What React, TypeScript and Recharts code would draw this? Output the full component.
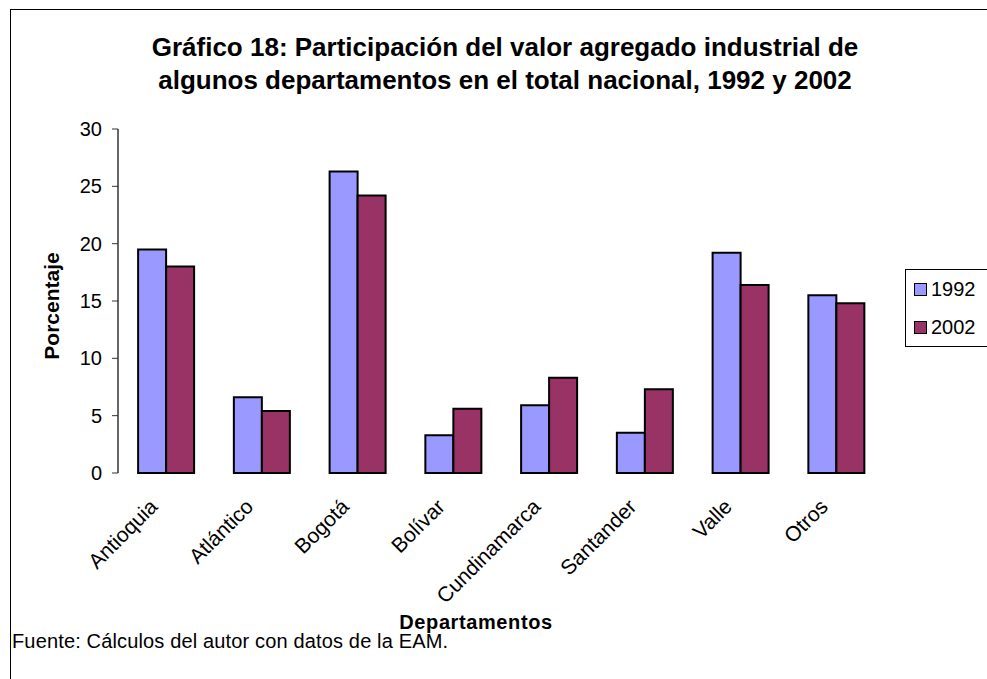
import { BarChart, Bar, XAxis, YAxis } from 'recharts';

const departamentos = ['Antioquia', 'Atlántico', 'Bogotá', 'Bolívar', 'Cundinamarca', 'Santander', 'Valle', 'Otros'];
const v1992 = [19.5, 6.6, 26.3, 3.3, 5.9, 3.5, 19.2, 15.5];
const v2002 = [18.0, 5.4, 24.2, 5.6, 8.3, 7.3, 16.4, 14.8];
const series = [
  { key: 'y1992', name: '1992', color: '#9999FF' },
  { key: 'y2002', name: '2002', color: '#993366' },
];
const yTicks = [0, 5, 10, 15, 20, 25, 30];
const boundaries = [0, 1, 2, 3, 4, 5, 6, 7, 8];

const FONT = '"Liberation Sans", Arial, sans-serif';

const data = departamentos.map((d, i) => ({ name: d, y1992: v1992[i], y2002: v2002[i] }));

function RotTick({ x, y, payload }: any) {
  return (
    <g transform={`translate(${x - 7},${y + 27})`}>
      <text textAnchor="end" transform="rotate(-45)" fontFamily={FONT} fontSize={21} fill="#000">
        {payload.value}
      </text>
    </g>
  );
}

export default function App() {
  return (
    <div style={{ position: 'absolute', left: 0, top: 0, width: 987, height: 679, background: '#fff', overflow: 'hidden', fontFamily: FONT }}>
      <div style={{ position: 'absolute', left: 10, top: 9, width: 1000, height: 700, border: '1.5px solid #000' }} />
      <div style={{ position: 'absolute', left: 0, top: 31, width: 1010, textAlign: 'center', fontWeight: 'bold', fontSize: 26, lineHeight: '33px' }}>
        Gráfico 18: Participación del valor agregado industrial de
        <br />
        algunos departamentos en el total nacional, 1992 y 2002
      </div>
      <BarChart
        width={987}
        height={679}
        data={data}
        margin={{ top: 129, right: 103, bottom: 0, left: 58 }}
        barCategoryGap="21%"
        barGap={0}
        style={{ position: 'absolute', left: 0, top: 0 }}
      >
        <XAxis
          xAxisId="b"
          type="number"
          domain={[0, 8]}
          ticks={boundaries}
          tickFormatter={() => ''}
          axisLine={{ stroke: '#000', strokeWidth: 1.5 }}
          tickLine={{ stroke: '#555' }}
          tickSize={6}
          height={0}
          allowDataOverflow
        />
        <XAxis
          xAxisId="cat"
          dataKey="name"
          height={206}
          axisLine={false}
          tickLine={false}
          interval={0}
          tick={<RotTick />}
        />
        <XAxis
          xAxisId="top"
          orientation="top"
          type="number"
          domain={[0, 1]}
          height={0}
          tick={false}
          tickLine={false}
          axisLine={{ stroke: '#888', strokeWidth: 2 }}
        />
        <YAxis
          yAxisId="l"
          domain={[0, 30]}
          ticks={yTicks}
          width={60}
          tickSize={6}
          tickMargin={10}
          axisLine={{ stroke: '#333', strokeWidth: 1.5 }}
          tickLine={{ stroke: '#333' }}
          tick={{ fontFamily: FONT, fontSize: 20, fill: '#000' }}
        />
        <YAxis
          yAxisId="r"
          orientation="right"
          domain={[0, 30]}
          width={0}
          tick={false}
          tickLine={false}
          axisLine={{ stroke: '#888', strokeWidth: 2 }}
        />
        {series.map((s) => (
          <Bar
            key={s.key}
            dataKey={s.key}
            name={s.name}
            xAxisId="cat"
            yAxisId="l"
            fill={s.color}
            stroke="#000"
            strokeWidth={2}
            isAnimationActive={false}
          />
        ))}
      </BarChart>
      <div style={{ position: 'absolute', left: 52, top: 306, transform: 'translate(-50%,-50%) rotate(-90deg)', fontWeight: 'bold', fontSize: 21, whiteSpace: 'nowrap' }}>
        Porcentaje
      </div>
      <div style={{ position: 'absolute', left: 476, top: 622, transform: 'translate(-50%,-50%)', fontWeight: 'bold', fontSize: 20, letterSpacing: 0.6, whiteSpace: 'nowrap' }}>
        Departamentos
      </div>
      <div style={{ position: 'absolute', left: 12, top: 630, fontSize: 20, letterSpacing: 0.15, whiteSpace: 'nowrap' }}>
        Fuente: Cálculos del autor con datos de la EAM.
      </div>
      <div style={{ position: 'absolute', left: 905, top: 269, width: 100, height: 78, border: '1px solid #000', boxSizing: 'border-box' }}>
        {series.map((s, i) => (
          <div key={s.key} style={{ position: 'absolute', left: 8, top: 7 + i * 38, display: 'flex', alignItems: 'center', fontSize: 20, lineHeight: '24px' }}>
            <span style={{ display: 'inline-block', width: 11, height: 11, background: s.color, border: '1px solid #000', marginRight: 4 }} />
            {s.name}
          </div>
        ))}
      </div>
    </div>
  );
}
